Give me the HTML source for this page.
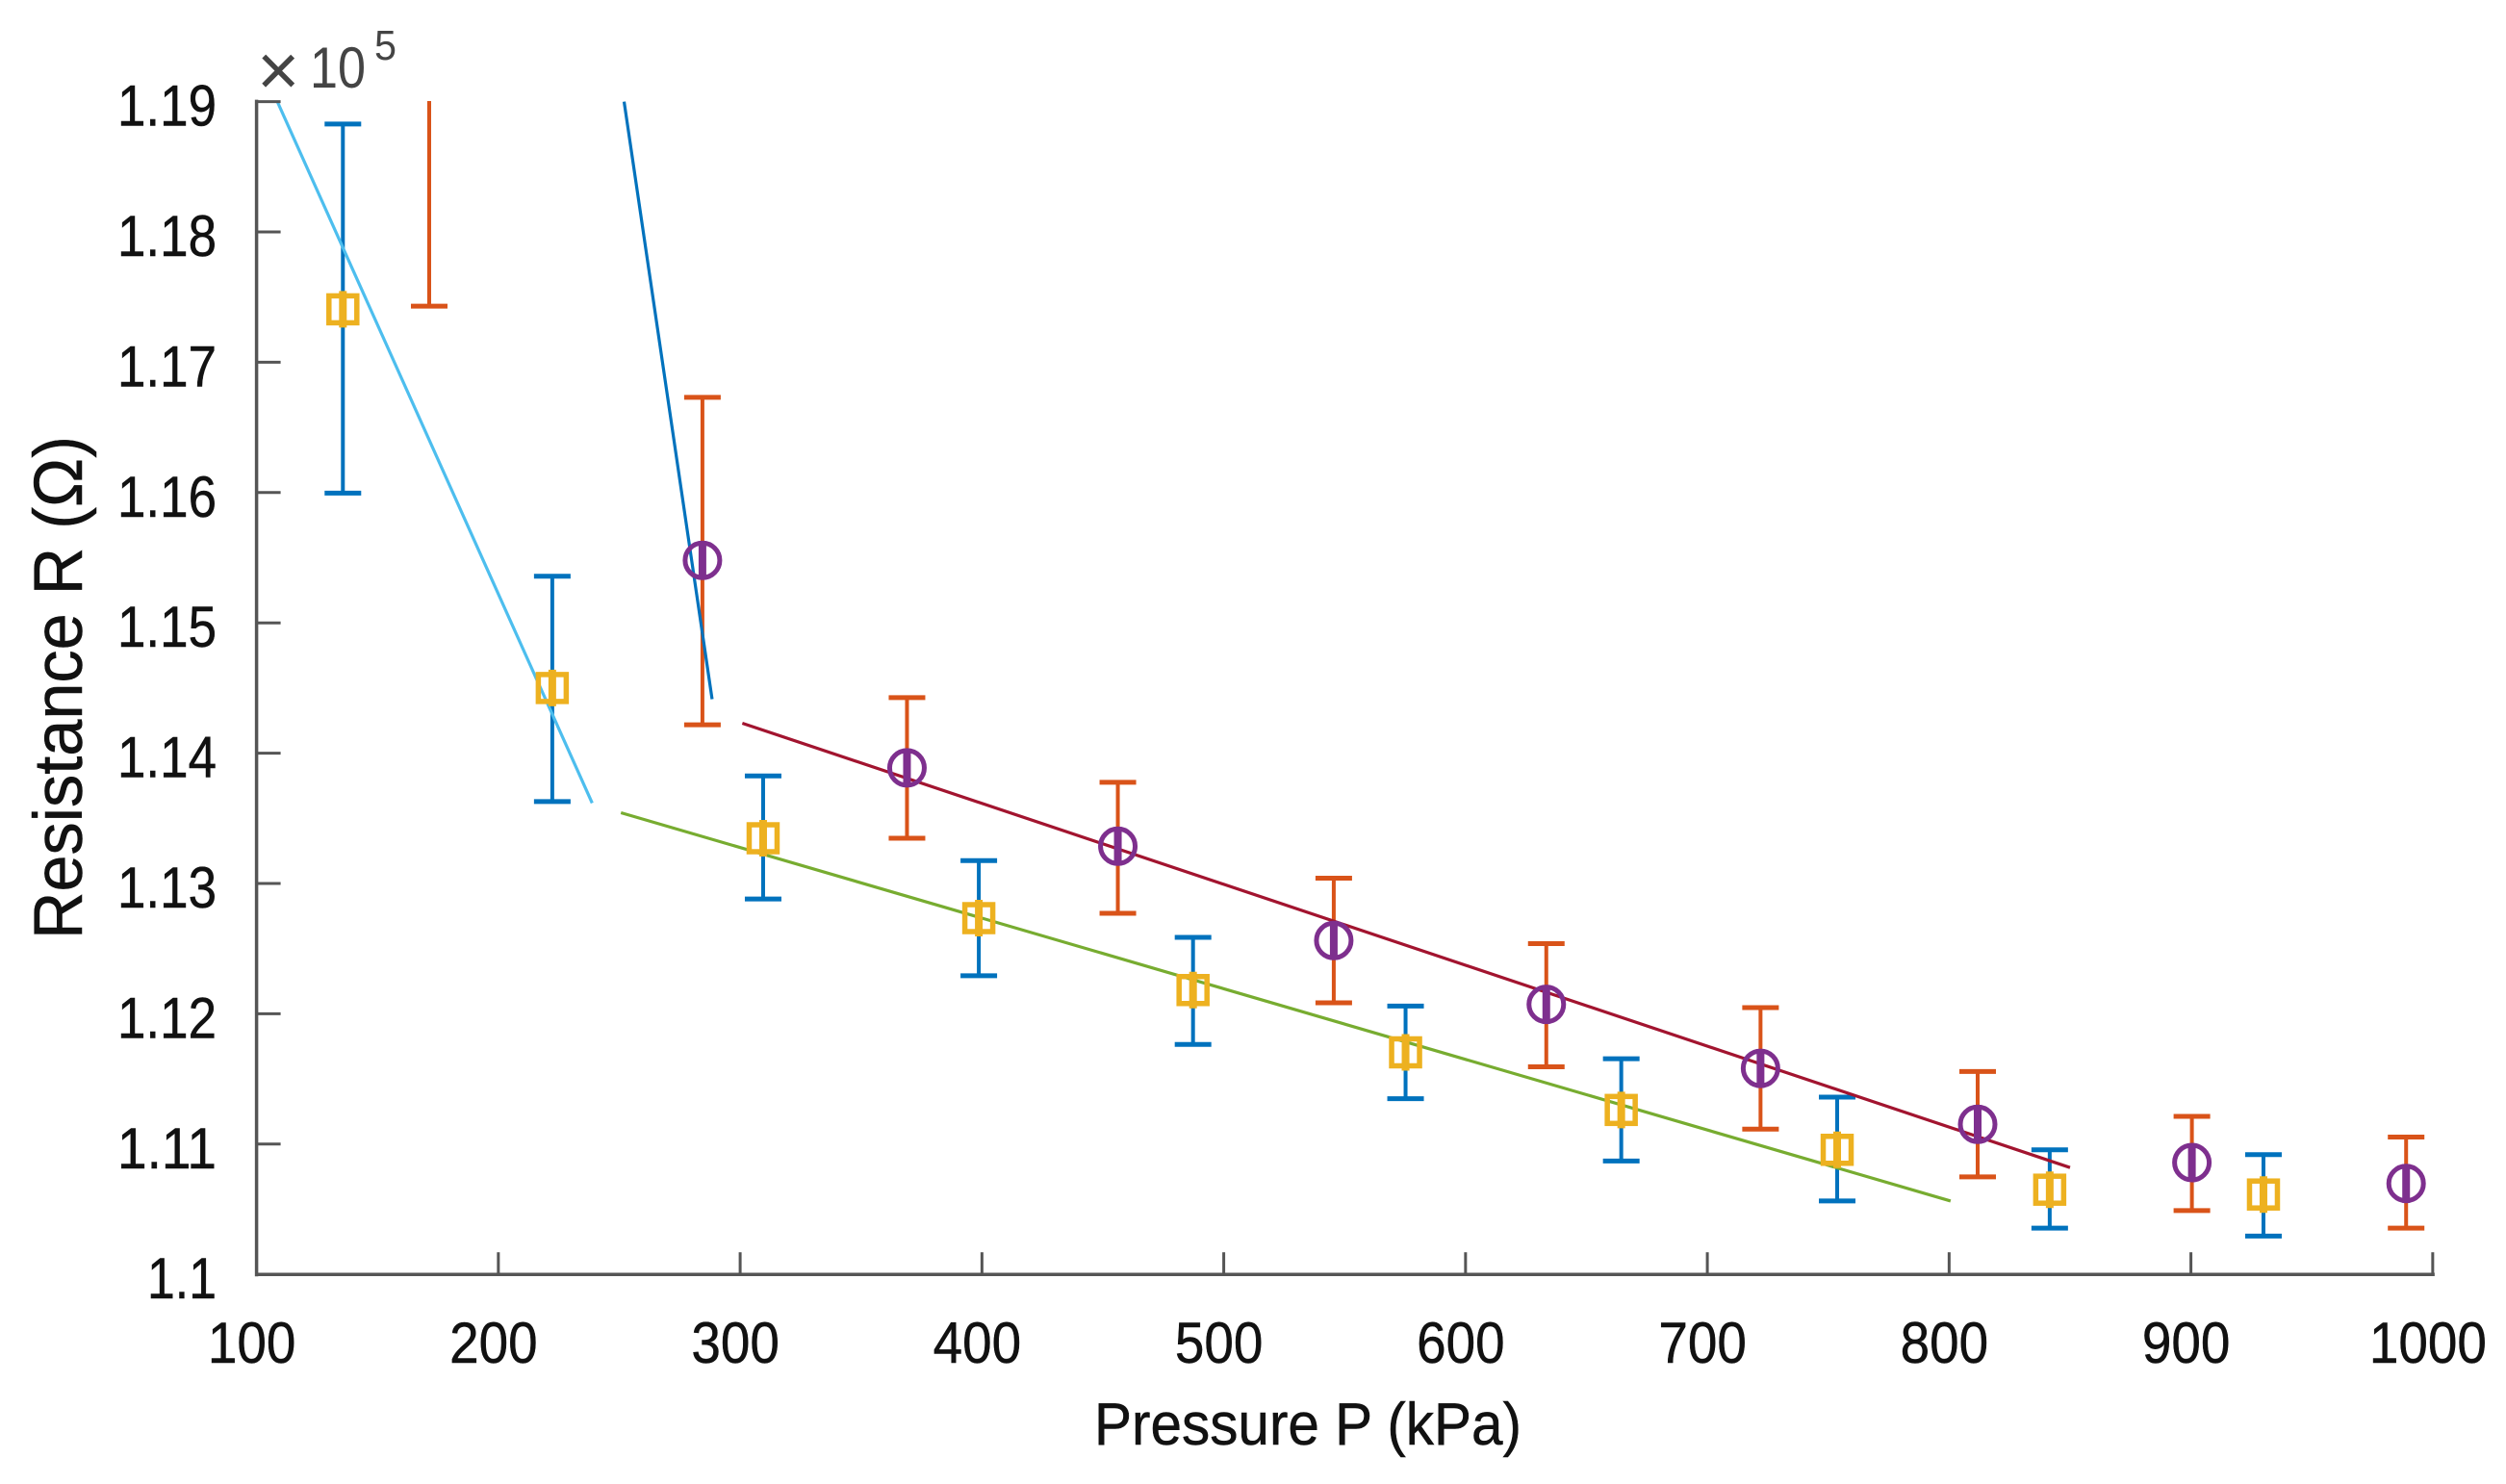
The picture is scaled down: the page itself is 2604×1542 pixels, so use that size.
<!DOCTYPE html>
<html lang="en">
<head>
<meta charset="utf-8">
<title>Resistance vs Pressure</title>
<style>
  html, body { margin: 0; padding: 0; background: #fff; }
  svg { display: block; font-family: "Liberation Sans", sans-serif; }
</style>
</head>
<body>
<svg id="chart" xmlns="http://www.w3.org/2000/svg" width="2604" height="1542" viewBox="0 0 2604 1542">
  <rect x="0" y="0" width="2604" height="1542" fill="#ffffff"/>
  <defs>
    <clipPath id="plot-clip"><rect x="266" y="105" width="2270" height="1225"/></clipPath>
  </defs>
  <g id="marks"></g>
  <g id="axes"></g>
  <text x="1137" y="1501" font-size="62" textLength="444" lengthAdjust="spacingAndGlyphs" fill="#111" stroke="#111" stroke-width="0.5">Pressure P (kPa)</text>
  <text transform="translate(85 976) rotate(-90)" font-size="71" textLength="523" lengthAdjust="spacingAndGlyphs" fill="#111" stroke="#111" stroke-width="0.5">Resistance R (Ω)</text>
  <g fill="#444">
    <text x="267" y="99" font-size="76">×</text>
    <text x="322" y="91" font-size="60" textLength="58" lengthAdjust="spacingAndGlyphs">10</text>
    <text x="389" y="62" font-size="44" textLength="23" lengthAdjust="spacingAndGlyphs">5</text>
  </g>
</svg>
<script>
const xTicks = [100, 200, 300, 400, 500, 600, 700, 800, 900, 1000];
const xTickLabels = ['100', '200', '300', '400', '500', '600', '700', '800', '900', '1000'];
const yTicks = [1.19, 1.18, 1.17, 1.16, 1.15, 1.14, 1.13, 1.12, 1.11, 1.10];
const yTickLabels = ['1.19', '1.18', '1.17', '1.16', '1.15', '1.14', '1.13', '1.12', '1.11', '1.1'];

const squarePressure = [135.7, 222.3, 309.5, 398.7, 487.3, 575.2, 664.4, 753.7, 841.6, 930];
const squareResistance = [1.17406, 1.1450, 1.13347, 1.12734, 1.12182, 1.11704, 1.11262, 1.10956, 1.1065, 1.10613];
const squareUpper = [1.18828, 1.15358, 1.13825, 1.13175, 1.12586, 1.12059, 1.11655, 1.1136, 1.10956, 1.10919];
const squareLower = [1.15996, 1.13629, 1.12881, 1.12292, 1.11765, 1.11348, 1.1087, 1.10564, 1.10355, 1.10294];

const circlePressure = [171.4, 284.4, 369, 456.2, 545.5, 633.4, 722, 811.8, 900.4, 989];
const circleResistance = [1.1925, 1.1548, 1.13887, 1.13286, 1.12562, 1.12072, 1.11581, 1.11152, 1.10858, 1.10698];
const circleUpper = [1.2107, 1.16731, 1.14426, 1.13776, 1.13041, 1.12538, 1.12047, 1.11557, 1.11213, 1.11054];
const circleLower = [1.1743, 1.14218, 1.13347, 1.12771, 1.12084, 1.11593, 1.11115, 1.10748, 1.1049, 1.10355];

const fitLightBlueP = [108.6, 238.8];
const fitLightBlueR = [1.19, 1.13617];
const fitBlueP = [252, 288.4];
const fitBlueR = [1.19, 1.14414];
const fitRedP = [300.9, 850];
const fitRedR = [1.1423, 1.1082];
const fitGreenP = [250.7, 800.6];
const fitGreenR = [1.13543, 1.10563];

const NS = 'http://www.w3.org/2000/svg';
const marks = document.getElementById('marks');
const axes = document.getElementById('axes');

function xScale(p) { return 266.6 + (p - 100) * 2.5125; }
function yScale(r) { return 105.6 + (1.19 - r) * 13540; }

function line(parent, x1, y1, x2, y2, color, width) {
  const el = document.createElementNS(NS, 'line');
  el.setAttribute('x1', x1);
  el.setAttribute('y1', y1);
  el.setAttribute('x2', x2);
  el.setAttribute('y2', y2);
  el.setAttribute('stroke', color);
  el.setAttribute('stroke-width', width);
  parent.appendChild(el);
  return el;
}

function group(parent) {
  const el = document.createElementNS(NS, 'g');
  parent.appendChild(el);
  return el;
}

function drawErrorBars(parent, px, lo, hi, color, seriesName) {
  const g = group(parent);
  g.setAttribute('clip-path', 'url(#plot-clip)');
  
  
  px.forEach(function (p, i) {
    const x = xScale(p);
    const stem = line(g, x, yScale(hi[i]), x, yScale(lo[i]), color, 4);
    
    
    const capTop = line(g, x - 19, yScale(hi[i]), x + 19, yScale(hi[i]), color, 5);
    
    
    const capBottom = line(g, x - 19, yScale(lo[i]), x + 19, yScale(lo[i]), color, 5);
    
    
  });
}

function drawFit(px, rs, color, name) {
  const el = line(marks, xScale(px[0]), yScale(rs[0]), xScale(px[1]), yScale(rs[1]), color, 3.2);
  
  
}

drawErrorBars(marks, squarePressure, squareLower, squareUpper, '#0072bd', 'square-series');
drawErrorBars(marks, circlePressure, circleLower, circleUpper, '#d95319', 'circle-series');

drawFit(fitLightBlueP, fitLightBlueR, '#4dbeee', 'fit-line-light-blue');
drawFit(fitBlueP, fitBlueR, '#0072bd', 'fit-line-blue');
drawFit(fitRedP, fitRedR, '#a2142f', 'fit-line-red');
drawFit(fitGreenP, fitGreenR, '#77ac30', 'fit-line-green');

squarePressure.forEach(function (p, i) {
  const x = xScale(p);
  const y = yScale(squareResistance[i]);
  const box = document.createElementNS(NS, 'rect');
  box.setAttribute('x', x - 14.5);
  box.setAttribute('y', y - 14);
  box.setAttribute('width', 29);
  box.setAttribute('height', 28);
  box.setAttribute('fill', 'none');
  box.setAttribute('stroke', '#edb120');
  box.setAttribute('stroke-width', 5.5);
  
  
  marks.appendChild(box);
  const core = line(marks, x, y - 19, x, y + 19, '#edb120', 8);
  
  
});

const circleGroup = group(marks);
circleGroup.setAttribute('clip-path', 'url(#plot-clip)');


circlePressure.forEach(function (p, i) {
  const x = xScale(p);
  const y = yScale(circleResistance[i]);
  const ring = document.createElementNS(NS, 'circle');
  ring.setAttribute('cx', x);
  ring.setAttribute('cy', y);
  ring.setAttribute('r', 18);
  ring.setAttribute('fill', 'none');
  ring.setAttribute('stroke', '#7e2f8e');
  ring.setAttribute('stroke-width', 5);
  
  
  circleGroup.appendChild(ring);
  const core = line(circleGroup, x, y - 20, x, y + 20, '#7e2f8e', 8);
  
  
});

const axisColor = '#555555';
const yAxisLine = line(axes, xScale(100), yScale(1.19) - 2, xScale(100), yScale(1.10) + 2, axisColor, 3.5);


const xAxisLine = line(axes, xScale(100), yScale(1.10), xScale(1000) + 2, yScale(1.10), axisColor, 3.5);



function label(x, y, str, width) {
  const t = document.createElementNS(NS, 'text');
  t.setAttribute('x', x);
  t.setAttribute('y', y);
  t.setAttribute('font-size', 60);
  t.setAttribute('textLength', width);
  t.setAttribute('lengthAdjust', 'spacingAndGlyphs');
  t.setAttribute('fill', '#111');
  t.setAttribute('stroke', '#111');
  t.setAttribute('stroke-width', 0.5);
  t.textContent = str;
  axes.appendChild(t);
  return t;
}

xTicks.forEach(function (v, i) {
  const x = xScale(v);
  if (i > 0) {
    const tick = line(axes, x, yScale(1.10), x, yScale(1.10) - 23, axisColor, 3);
    
    
  }
  const width = xTickLabels[i].length * 30.5;
  const t = label(x - 5 - width / 2, 1416, xTickLabels[i], width);
  
  
});

yTicks.forEach(function (v, i) {
  const y = yScale(v);
  if (i < yTicks.length - 1) {
    const tick = line(axes, xScale(100), y, xScale(100) + 25, y, axisColor, 3);
    
    
  }
  const width = yTickLabels[i].length === 3 ? 72 : 103;
  const t = label(225 - width, y + 25, yTickLabels[i], width);
  
  
});
</script>
</body>
</html>
